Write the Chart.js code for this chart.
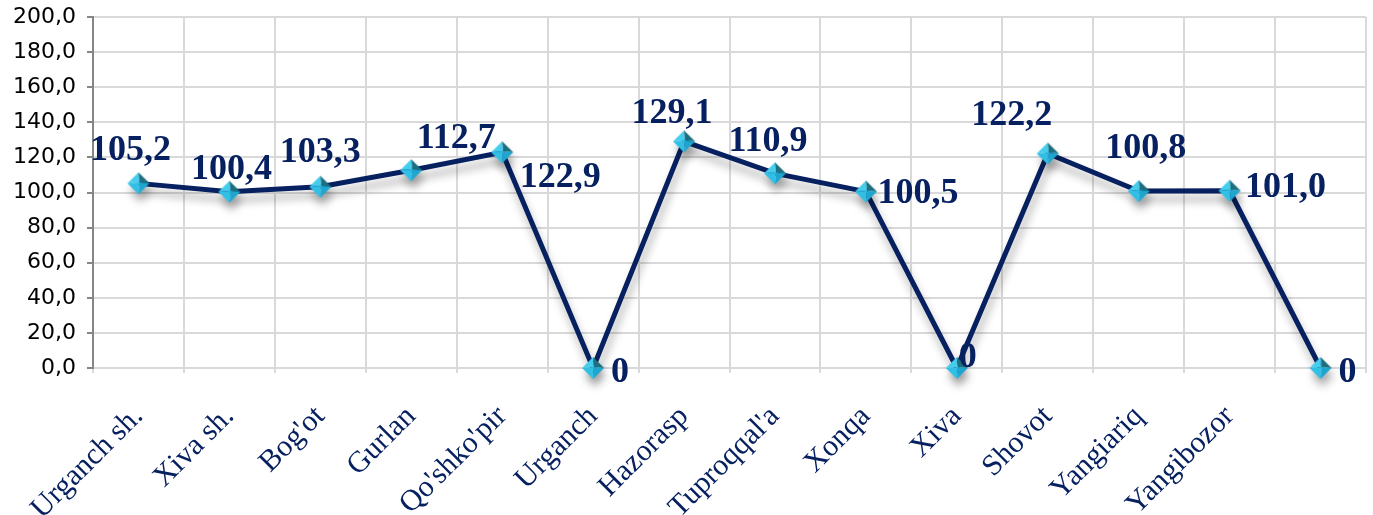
<!DOCTYPE html>
<html><head><meta charset="utf-8">
<script src="https://cdn.jsdelivr.net/npm/chart.js@4/dist/chart.umd.min.js"></script>
<style>html,body{margin:0;padding:0;background:#fff;overflow:hidden}#wrap{width:1373px;height:515px;position:relative}</style>
</head><body><div id="wrap"><canvas id="c"></canvas></div>
<script>
// ---- data ----
const categories = ["Urganch sh.", "Xiva sh.", "Bog'ot", "Gurlan", "Qo'shko'pir", "Urganch", "Hazorasp", "Tuproqqal'a", "Xonqa", "Xiva", "Shovot", "Yangiariq", "Yangibozor", ""];
const values = [105.2, 100.4, 103.3, 112.7, 122.9, 0, 129.1, 110.9, 100.5, 0, 122.2, 100.8, 101.0, 0];
const yMin = 0, yMax = 200, yStep = 20;

// label placement relative to each point (text centre offset, px)
const labelShift = [[-8,-36],[2,-25],[0,-37],[45,-34],[58,22],[27,2],[-12,-31],[-7,-35],[52,-1],[11,-13],[-36,-41],[7,-45],[56,-6],[27,2]];

const NAVY = '#062060';
const fmt = v => v === 0 ? '0' : v.toFixed(1).replace('.', ',');

// bevelled diamond marker
function makeMarker(r) {
  const s = r * 2 + 2, c = document.createElement('canvas');
  c.width = s; c.height = s;
  const g = c.getContext('2d'), m = s / 2;
  const T = [m, m - r], R = [m + r, m], B = [m, m + r], L = [m - r, m], C = [m + 1, m - 1];
  const facet = (p1, p2, col) => { g.beginPath(); g.moveTo(p1[0], p1[1]); g.lineTo(p2[0], p2[1]); g.lineTo(C[0], C[1]); g.closePath(); g.fillStyle = col; g.fill(); };
  facet(L, T, '#45cdee');
  facet(T, R, '#1d6e7e');
  facet(R, B, '#1fa6cf');
  facet(B, L, '#32bfe6');
  return c;
}
const marker = makeMarker(11);

const shadowPlugin = {
  id: 'lineShadow',
  beforeDatasetDraw(chart) {
    const ctx = chart.ctx; ctx.save();
    ctx.shadowColor = 'rgba(0,0,0,0.30)'; ctx.shadowBlur = 9; ctx.shadowOffsetX = 2; ctx.shadowOffsetY = 8;
  },
  afterDatasetDraw(chart) { chart.ctx.restore(); }
};

const labelPlugin = {
  id: 'valueLabels',
  afterDatasetsDraw(chart) {
    const ctx = chart.ctx, meta = chart.getDatasetMeta(0), size = 36;
    ctx.save();
    ctx.font = 'bold ' + size + 'px "Liberation Serif", "Times New Roman", serif';
    ctx.fillStyle = NAVY; ctx.textAlign = 'center'; ctx.textBaseline = 'alphabetic';
    meta.data.forEach((pt, i) => {
      const d = labelShift[i] || [0, -30];
      ctx.fillText(fmt(values[i]), pt.x + d[0], pt.y + d[1] + size * 0.34);
    });
    ctx.restore();
  }
};

new Chart(document.getElementById('c'), {
  type: 'line',
  data: {
    labels: categories,
    datasets: [{
      data: values,
      borderColor: NAVY,
      borderWidth: 5,
      tension: 0,
      pointStyle: marker,
      pointRadius: 11,
      pointHoverRadius: 11,
      clip: false,
      fill: false
    }]
  },
  options: {
    responsive: true,
    maintainAspectRatio: false,
    animation: false,
    layout: { autoPadding: false, padding: { top: 17, right: 7, left: 0, bottom: 0 } },
    plugins: { legend: { display: false }, tooltip: { enabled: false }, title: { display: false } },
    scales: {
      x: {
        offset: true,
        grid: { offset: true, color: '#d9d9d9', lineWidth: 2, tickLength: 5, tickColor: '#d9d9d9', drawTicks: true },
        border: { color: '#d9d9d9', width: 2 },
        ticks: {
          autoSkip: false, maxRotation: 45, minRotation: 45, padding: 26,
          color: NAVY,
          font: { family: '"Liberation Serif", "Times New Roman", serif', size: 30 }
        },
        afterFit(scale) { scale.height = 147; scale.paddingLeft = 0; scale.paddingRight = 0; }
      },
      y: {
        min: yMin, max: yMax,
        grid: { color: '#d9d9d9', lineWidth: 2, tickLength: 6, tickColor: '#868686' },
        border: { color: '#868686', width: 2 },
        ticks: {
          stepSize: yStep, padding: 11, color: '#000',
          font: { family: '"DejaVu Sans", sans-serif', size: 22 },
          callback: v => Number(v).toFixed(1).replace('.', ',')
        },
        afterFit(scale) { scale.width = 93; scale.paddingTop = 0; scale.paddingBottom = 0; }
      }
    }
  },
  plugins: [shadowPlugin, labelPlugin]
});
</script>
</body></html>
